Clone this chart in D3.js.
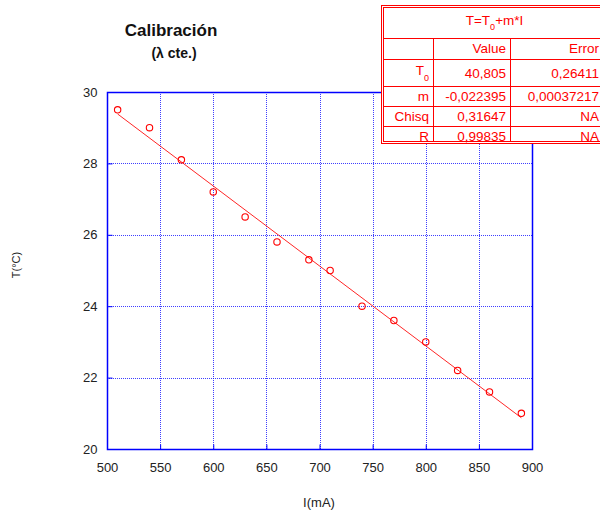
<!DOCTYPE html>
<html>
<head>
<meta charset="utf-8">
<script src="https://cdn.jsdelivr.net/npm/d3@7"></script>
<style>
  body { margin: 0; background: #fff; }
  svg { display: block; font-family: "Liberation Sans", Arial, sans-serif; }
</style>
</head>
<body>
<svg id="chart" width="600" height="514"></svg>
<script>
// Calibration measurements: current I (mA) vs temperature T (°C)
const current = [510, 540, 570, 600, 630, 660, 690, 710, 740, 770, 800, 830, 860, 890];
const temperature = [29.5, 29.0, 28.1, 27.2, 26.5, 25.8, 25.3, 25.0, 24.0, 23.6, 23.0, 22.2, 21.6, 21.0];

// Linear fit T = T0 + m*I
const fitT0 = 40.805;
const fitM = -0.022395;

const xTicks = [500, 550, 600, 650, 700, 750, 800, 850, 900];
const yTicks = [20, 22, 24, 26, 28, 30];

// Fit results table rows: [name, value, error]
const fitRows = [
  ["T0", "40,805", "0,26411"],
  ["m", "-0,022395", "0,00037217"],
  ["Chisq", "0,31647", "NA"],
  ["R", "0,99835", "NA"]
];

const svg = d3.select("#chart");
const plot = { left: 107, top: 92, right: 532, bottom: 449 };

const x = d3.scaleLinear().domain([500, 900]).range([plot.left, plot.right]);
const y = d3.scaleLinear().domain([20, 30]).range([plot.bottom, plot.top]);

const blue = "#0000ff";
const red = "#ff0000";

// Grid
const grid = svg.append("g");
grid.selectAll(".gx").data(xTicks.slice(1, -1)).join("line")
  .attr("x1", d => Math.round(x(d)) + 0.5).attr("x2", d => Math.round(x(d)) + 0.5)
  .attr("y1", plot.top).attr("y2", plot.bottom)
  .attr("stroke", blue).attr("stroke-width", 1).attr("stroke-dasharray", "1,1").attr("opacity", 0.75);
grid.selectAll(".gy").data(yTicks.slice(1, -1)).join("line")
  .attr("y1", d => Math.round(y(d)) + 0.5).attr("y2", d => Math.round(y(d)) + 0.5)
  .attr("x1", plot.left).attr("x2", plot.right)
  .attr("stroke", blue).attr("stroke-width", 1).attr("stroke-dasharray", "1,1").attr("opacity", 0.75);

// Axes with inward ticks
const xAxis = svg.append("g").attr("transform", `translate(0,${plot.bottom + 0.5})`)
  .call(d3.axisBottom(x).tickValues(xTicks).tickSize(-5).tickPadding(13).tickFormat(d3.format("d")));
const yAxis = svg.append("g").attr("transform", `translate(${plot.left + 0.5},0)`)
  .call(d3.axisLeft(y).tickValues(yTicks).tickSize(-5).tickPadding(10).tickFormat(d3.format("d")));
[xAxis, yAxis].forEach(a => {
  a.select(".domain").remove();
  a.selectAll(".tick line").attr("stroke", blue);
  a.selectAll(".tick text").attr("fill", "#222").style("font-size", "13px")
    .style("font-family", "'Liberation Sans', Arial, sans-serif");
});

// Frame
svg.append("rect")
  .attr("x", plot.left + 0.5).attr("y", plot.top + 0.5)
  .attr("width", plot.right - plot.left).attr("height", plot.bottom - plot.top)
  .attr("fill", "none").attr("stroke", blue).attr("stroke-width", 1.5);

// Fit line
const xMin = d3.min(current), xMax = d3.max(current);
svg.append("line")
  .attr("x1", x(xMin)).attr("y1", y(fitT0 + fitM * xMin))
  .attr("x2", x(xMax)).attr("y2", y(fitT0 + fitM * xMax))
  .attr("stroke", red).attr("stroke-width", 1).attr("opacity", 0.85);

// Data points
svg.append("g").selectAll("circle").data(current).join("circle")
  .attr("cx", (d, i) => x(d)).attr("cy", (d, i) => y(temperature[i]))
  .attr("r", 3.2).attr("fill", "none").attr("stroke", red).attr("stroke-width", 1.1);

// Titles
svg.append("text").attr("x", 171).attr("y", 36).attr("text-anchor", "middle")
  .style("font-size", "17px").style("font-weight", "bold").attr("fill", "#111").text("Calibración");
svg.append("text").attr("x", 174).attr("y", 58).attr("text-anchor", "middle")
  .style("font-size", "14px").style("font-weight", "bold").attr("fill", "#111").text("(λ cte.)");

// Axis titles
svg.append("text").attr("x", 319).attr("y", 507).attr("text-anchor", "middle")
  .style("font-size", "13px").attr("fill", "#222").text("I(mA)");
svg.append("text").attr("transform", "translate(20,265) rotate(-90)").attr("text-anchor", "middle")
  .style("font-size", "11px").attr("fill", "#222").text("T(°C)");

// Fit results table
const tbl = svg.append("g");
const tL = 381, tR = 602, cA = 433, cB = 510;
const rowsY = [5, 38, 59, 86, 106, 126, 143];
tbl.append("rect").attr("x", tL + 0.5).attr("y", rowsY[0] + 0.5)
  .attr("width", tR - tL).attr("height", rowsY[6] - rowsY[0])
  .attr("fill", "#fff").attr("stroke", red).attr("stroke-width", 1);
tbl.append("rect").attr("x", tL + 2.5).attr("y", rowsY[0] + 2.5)
  .attr("width", tR - tL - 4).attr("height", rowsY[6] - rowsY[0] - 4)
  .attr("fill", "none").attr("stroke", red).attr("stroke-width", 1);
rowsY.slice(1, 6).forEach(ry => {
  tbl.append("line").attr("x1", tL + 2).attr("x2", tR).attr("y1", ry + 0.5).attr("y2", ry + 0.5)
    .attr("stroke", red).attr("stroke-width", 1);
});
[cA, cB].forEach(cx => {
  tbl.append("line").attr("x1", cx + 0.5).attr("x2", cx + 0.5).attr("y1", rowsY[1]).attr("y2", rowsY[6] - 2)
    .attr("stroke", red).attr("stroke-width", 1);
});
const tStyle = s => s.style("font-size", "13.5px").attr("fill", red);
// header
const head = tbl.append("text").attr("x", (tL + 608) / 2).attr("y", 25).attr("text-anchor", "middle").call(tStyle);
head.append("tspan").text("T=T");
head.append("tspan").attr("dy", 5).style("font-size", "9px").text("0");
head.append("tspan").attr("dy", -5).text("+m*I");
tbl.append("text").attr("x", cB - 4).attr("y", 53).attr("text-anchor", "end").call(tStyle).text("Value");
tbl.append("text").attr("x", 599).attr("y", 53).attr("text-anchor", "end").call(tStyle).text("Error");
fitRows.forEach((r, i) => {
  const base = rowsY[i + 2] + (i === 0 ? 19 : 15);
  const name = tbl.append("text").attr("x", cA - 4).attr("y", base).attr("text-anchor", "end").call(tStyle);
  if (r[0] === "T0") {
    name.attr("y", base - 3);
    name.append("tspan").text("T");
    name.append("tspan").attr("dy", 6).style("font-size", "9px").text("0");
  } else {
    name.text(r[0]);
  }
  tbl.append("text").attr("x", cB - 4).attr("y", base).attr("text-anchor", "end").call(tStyle).text(r[1]);
  tbl.append("text").attr("x", 599).attr("y", base).attr("text-anchor", "end").call(tStyle).text(r[2]);
});
</script>
</body>
</html>
